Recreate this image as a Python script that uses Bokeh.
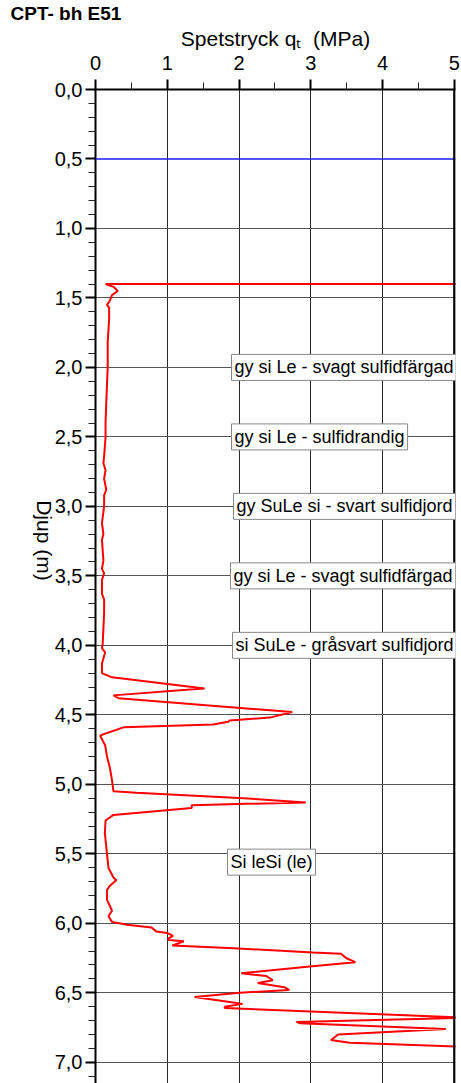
from bokeh.plotting import figure
from bokeh.models import Range1d, FixedTicker, CustomJSTickFormatter, Label, Span, ColumnDataSource
from bokeh.embed import file_html
from bokeh.resources import INLINE
import math

# ---- data ----
depth_m = [1.40, 1.40, 1.42, 1.45, 1.48, 1.52, 1.55, 1.57, 1.65, 1.82, 2.00, 2.25, 2.40, 2.50,
           2.64, 2.69, 2.74, 2.80, 2.88, 2.92, 3.00, 3.12, 3.20, 3.24, 3.39, 3.45, 3.48, 3.53,
           3.63, 3.67, 3.77, 3.99, 4.02, 4.05, 4.13, 4.20, 4.23, 4.31, 4.32, 4.36, 4.38, 4.48,
           4.52, 4.54, 4.55, 4.57, 4.59, 4.64, 4.65, 4.72, 4.80, 4.88, 4.97, 5.05, 5.06, 5.10,
           5.13, 5.15, 5.17, 5.22, 5.26, 5.35, 5.45, 5.60, 5.67, 5.69, 5.73, 5.76, 5.83, 5.91,
           5.95, 5.99, 6.01, 6.03, 6.06, 6.07, 6.09, 6.11, 6.12, 6.13, 6.16, 6.18, 6.21, 6.22,
           6.25, 6.28, 6.31, 6.36, 6.38, 6.41, 6.43, 6.46, 6.48, 6.50, 6.53, 6.57, 6.58, 6.60,
           6.61, 6.68, 6.71, 6.72, 6.76, 6.80, 6.84, 6.86, 6.89]
qt_mpa = [6.00, 0.14, 0.25, 0.31, 0.23, 0.20, 0.16, 0.19, 0.19, 0.17, 0.17, 0.15, 0.14, 0.14,
          0.12, 0.11, 0.14, 0.12, 0.15, 0.12, 0.12, 0.09, 0.11, 0.09, 0.11, 0.09, 0.12, 0.09,
          0.09, 0.12, 0.12, 0.10, 0.09, 0.135, 0.09, 0.09, 0.23, 1.52, 1.27, 0.25, 0.32, 2.74,
          2.43, 1.87, 1.85, 1.64, 0.39, 0.11, 0.065, 0.135, 0.16, 0.20, 0.23, 0.25, 0.57, 2.06,
          2.93, 1.34, 1.34, 0.25, 0.14, 0.13, 0.15, 0.18, 0.25, 0.29, 0.20, 0.16, 0.16, 0.23,
          0.18, 0.23, 0.44, 0.78, 0.85, 1.00, 1.08, 1.01, 1.02, 1.23, 1.07, 1.92, 3.03, 3.42,
          3.49, 3.62, 3.02, 2.03, 2.38, 2.47, 2.26, 2.63, 2.70, 2.01, 1.38, 1.92, 2.05, 1.80,
          1.80, 5.20, 2.80, 2.85, 4.88, 3.38, 3.28, 3.54, 5.20]

x_ticks = [0, 1, 2, 3, 4, 5]
x_minor = [0.5, 1.5, 2.5, 3.5, 4.5]
y_ticks = [i * 0.5 for i in range(15)]
y_minor = [round(i * 0.1, 1) for i in range(72) if i % 5 != 0]
x_grid = [1, 2, 3, 4]
y_grid = [i * 0.5 for i in range(2, 15)]
water_level = 0.5

soil_texts = ["gy si Le - svagt sulfidfärgad", "gy si Le - sulfidrandig",
              "gy SuLe si - svart sulfidjord", "gy si Le - svagt sulfidfärgad",
              "si SuLe - gråsvart sulfidjord", "Si leSi (le)"]
soil_depths = [2.0, 2.5, 3.0, 3.5, 4.0, 5.56]

title_text = "CPT- bh E51"
xlabel_text = "Spetstryck q\u209c\u00a0 (MPa)"
ylabel_text = "Djup  (m)"

FONT = "Liberation Sans"

# ---- layout ----
W, H = 461, 1083
LEFT, TOP, RIGHT = 95, 88, 6
XMAX = 5.015
YMAX = 7.153
frame_w = W - LEFT - RIGHT
pxx = frame_w / XMAX

def dx(page_x):  # picture x -> data x
    return (page_x - LEFT) / pxx

p = figure(width=W, height=H, x_range=Range1d(0, XMAX), y_range=Range1d(YMAX, 0),
           x_axis_location="above", output_backend="svg", toolbar_location=None,
           min_border_left=LEFT, min_border_top=TOP, min_border_right=RIGHT, min_border_bottom=0)
p.outline_line_color = None
p.background_fill_color = "white"
p.border_fill_color = "white"

p.title.text = title_text
p.title.text_font = FONT
p.title.text_font_size = "19px"
p.title.text_font_style = "bold"
p.title.text_color = "black"
p.title.align = "left"
p.title.offset = -85
p.title.standoff = 0

for ax, tk, mn in ((p.xaxis, x_ticks, x_minor), (p.yaxis, y_ticks, y_minor)):
    ax.ticker = FixedTicker(ticks=tk, minor_ticks=mn)
    ax.axis_line_width = 2
    ax.axis_line_color = "black"
    ax.major_tick_out = 10
    ax.major_tick_in = 0
    ax.minor_tick_out = 7
    ax.minor_tick_in = 0
    ax.major_tick_line_width = 2
    ax.major_tick_line_color = "black"
    ax.minor_tick_line_color = "#222222"
    ax.minor_tick_line_width = 1
    ax.major_label_text_font = FONT
    ax.major_label_text_font_size = "20px"
    ax.major_label_text_color = "black"
    ax.axis_label_text_font = FONT
    ax.axis_label_text_font_style = "normal"
    ax.axis_label_text_color = "black"

p.xaxis.major_label_standoff = 10
p.yaxis.major_label_standoff = 3
p.yaxis.formatter = CustomJSTickFormatter(code="return tick.toFixed(1).replace('.', ',');")

p.xaxis.axis_label = xlabel_text
p.xaxis.axis_label_text_font_size = "21px"
p.xaxis.axis_label_standoff = 3
p.yaxis.axis_label = ylabel_text
p.yaxis.axis_label_text_font_size = "21px"
p.yaxis.axis_label_standoff = 7
try:
    p.yaxis.axis_label_orientation = -math.pi / 2
except Exception:
    pass

p.xgrid.ticker = FixedTicker(ticks=x_grid)
p.ygrid.ticker = FixedTicker(ticks=y_grid)
p.xgrid.grid_line_color = "#2a2a2a"
p.ygrid.grid_line_color = "#555555"
p.xgrid.grid_line_width = 1
p.ygrid.grid_line_width = 1

p.add_layout(Span(location=water_level, dimension="width", line_color="#1a1aff", line_width=1.5))
p.add_layout(Span(location=5, dimension="height", line_color="black", line_width=2.5))

src = ColumnDataSource(data=dict(x=qt_mpa, y=depth_m))
p.line("x", "y", source=src, line_color="#ff0000", line_width=2)

label_left = [231, 231, 233, 230, 232, 227]
for t, d, lx in zip(soil_texts, soil_depths, label_left):
    p.add_layout(Label(x=dx(lx), y=d, text=t, text_font=FONT, text_font_size="18px",
                       text_align="left", text_baseline="middle", text_color="black",
                       background_fill_color="white", border_line_color="#888888",
                       border_line_width=1, padding=3))

open("out.html", "w").write(file_html(p, INLINE))
